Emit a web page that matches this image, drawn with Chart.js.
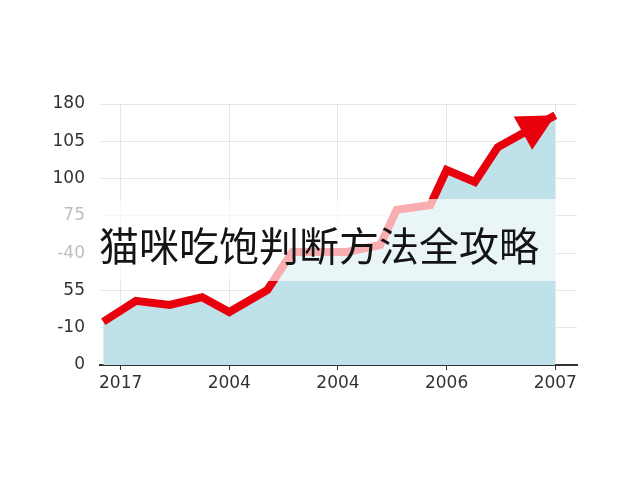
<!DOCTYPE html>
<html>
<head>
<meta charset="utf-8">
<script src="https://cdn.jsdelivr.net/npm/chart.js@4/dist/chart.umd.min.js"></script>
<style>
  html, body { margin: 0; padding: 0; background: #fff; }
  #wrap { width: 640px; height: 480px; position: relative; }
</style>
</head>
<body>
<div id="wrap"><canvas id="graphCanvas" width="640" height="480"></canvas></div>
<script>
// tick labels as printed on the picture
var xLabels = ['2017', '2004', '2004', '2006', '2007'];
var yLabels = ['0', '-10', '55', '-40', '75', '100', '105', '180'];

// series, in axis units (x: tick index, y: gridline index)
var xs = [-0.16, 0.14, 0.45, 0.75, 1.00, 1.35, 1.58, 2.08, 2.39, 2.54, 2.85, 3.00, 3.26, 3.47, 4.00];
var ys = [1.16, 1.72, 1.61, 1.82, 1.42, 2.01, 3.03, 3.03, 3.22, 4.16, 4.29, 5.23, 4.91, 5.84, 6.70];

var title = '猫咪吃饱判断方法全攻略';

var points = [];
for (var ii in xs) {
  points.push({x: xs[ii], y: ys[ii]});
}

// red arrow head on the last point of the line
var arrowHead = {
  id: 'arrowHead',
  afterDatasetsDraw: function(chart) {
    var pts = chart.getDatasetMeta(0).data;
    var a = pts[pts.length - 2], b = pts[pts.length - 1];
    var ang = Math.atan2(b.y - a.y, b.x - a.x);
    var len = 37, half = 19;
    var ctx = chart.ctx;
    ctx.save();
    ctx.translate(b.x, b.y);
    ctx.rotate(ang);
    ctx.beginPath();
    ctx.moveTo(0, 0);
    ctx.lineTo(-len, -half);
    ctx.lineTo(-len, half);
    ctx.closePath();
    ctx.fillStyle = '#e8000c';
    ctx.fill();
    ctx.restore();
  }
};

// white translucent band with the headline over the chart
var banner = {
  id: 'banner',
  afterDraw: function(chart) {
    var ctx = chart.ctx;
    var right = chart.scales.x.getPixelForValue(4) + 1;
    ctx.save();
    ctx.fillStyle = 'rgba(255,255,255,0.68)';
    ctx.fillRect(0, 199, right, 82);
    ctx.fillStyle = '#141414';
    ctx.font = '40px "Noto Sans CJK SC"';
    ctx.textBaseline = 'middle';
    ctx.textAlign = 'left';
    ctx.fillText(title, 99, 246);
    ctx.restore();
  }
};

var graphTarget = document.getElementById('graphCanvas');
var lineGraph = new Chart(graphTarget, {
  type: 'line',
  data: {
    datasets: [
      {
        data: points,
        borderColor: '#e8000c',
        backgroundColor: '#bfe1ea',
        borderWidth: 8,
        borderJoinStyle: 'miter',
        borderCapStyle: 'butt',
        fill: 'origin',
        tension: 0,
        pointRadius: 0
      }
    ]
  },
  options: {
    responsive: false,
    animation: false,
    devicePixelRatio: 1,
    layout: { padding: { left: 0, right: 63, top: 104, bottom: 0 } },
    plugins: {
      legend: { display: false },
      tooltip: { enabled: false }
    },
    scales: {
      x: {
        type: 'linear',
        min: -0.19,
        max: 4.2,
        afterBuildTicks: function(s) {
          s.ticks = xLabels.map(function(l, i) { return {value: i}; });
        },
        afterFit: function(s) { s.height = 115; },
        grid: { color: '#e6e6e6', tickColor: '#333', tickLength: 5, lineWidth: 1 },
        border: { display: true, color: '#333', width: 2 },
        ticks: {
          padding: 3,
          color: '#333',
          font: { family: 'DejaVu Sans', size: 17 },
          callback: function(v) { return xLabels[v]; }
        }
      },
      y: {
        type: 'linear',
        min: 0,
        max: 7,
        afterBuildTicks: function(s) {
          s.ticks = yLabels.map(function(l, i) { return {value: i}; });
        },
        afterFit: function(s) { s.width = 100; },
        grid: { color: '#e6e6e6', drawTicks: false, lineWidth: 1 },
        border: { display: false },
        ticks: {
          padding: 15,
          color: '#333',
          font: { family: 'DejaVu Sans', size: 17 },
          callback: function(v) { return yLabels[v]; }
        }
      }
    }
  },
  plugins: [arrowHead, banner]
});
</script>
</body>
</html>
